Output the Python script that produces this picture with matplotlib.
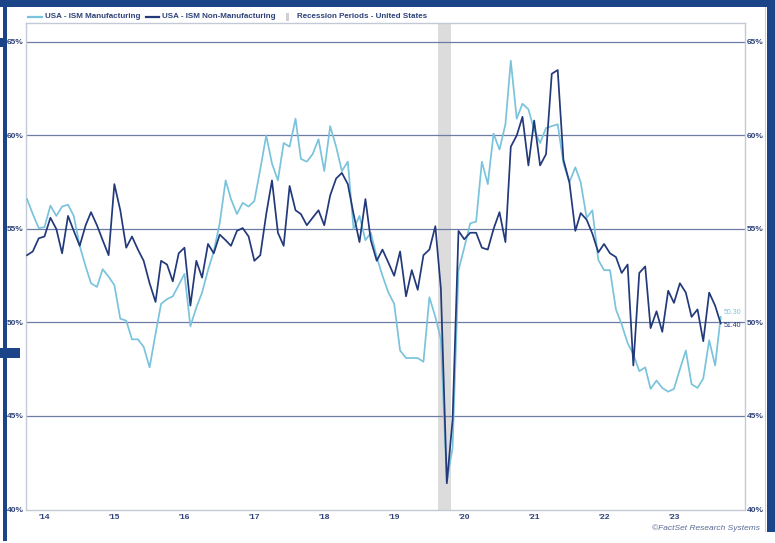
import matplotlib
matplotlib.use("Agg")
import matplotlib.pyplot as plt
from matplotlib.lines import Line2D
from matplotlib.patches import Rectangle
import pandas as pd

# ---------------- data ----------------
start_month = "2014-04-01"
ism_manufacturing = [
    56.6, 55.8, 55.05, 55.1, 56.25, 55.7, 56.2, 56.3, 55.7, 54.1, 53.0, 52.1,
    51.9, 52.85, 52.45, 52.0, 50.2, 50.1, 49.1, 49.1, 48.7, 47.6, 49.4, 51.0,
    51.25, 51.4, 52.0, 52.6, 49.8, 50.8, 51.6, 52.8, 53.8, 55.3, 57.6, 56.6,
    55.8, 56.4, 56.2, 56.5, 58.2, 60.0, 58.5, 57.6, 59.6, 59.4, 60.9, 58.75,
    58.6, 59.0, 59.8, 58.1, 60.5, 59.4, 58.1, 58.6, 55.0, 55.7, 54.4, 54.8,
    53.5, 52.5, 51.6, 51.0, 48.5, 48.1, 48.1, 48.1, 47.9, 51.35, 50.3, 49.1,
    41.5, 43.3, 52.8, 54.0, 55.3, 55.4, 58.6, 57.4, 60.1, 59.25, 60.6, 64.0,
    60.9, 61.7, 61.4, 60.3, 59.6, 60.4, 60.5, 60.6, 58.5, 57.5, 58.3, 57.5,
    55.6, 56.0, 53.35, 52.8, 52.8, 50.7, 49.9, 48.9, 48.3, 47.4, 47.6, 46.45,
    46.9, 46.5, 46.3, 46.45, 47.5, 48.5, 46.7, 46.5, 47.0, 49.05, 47.7, 50.3,
]
ism_non_manufacturing = [
    53.6, 53.8, 54.5, 54.6, 55.6, 55.0, 53.7, 55.7, 54.9, 54.1, 55.2, 55.9,
    55.2, 54.4, 53.6, 57.4, 56.0, 54.0, 54.6, 53.9, 53.3, 52.1, 51.1, 53.3,
    53.1, 52.2, 53.7, 54.0, 50.9, 53.3, 52.4, 54.2, 53.7, 54.7, 54.4, 54.1,
    54.9, 55.05, 54.6, 53.3, 53.6, 55.8, 57.6, 54.8, 54.1, 57.3, 56.0, 55.8,
    55.2, 55.6, 56.0, 55.2, 56.8, 57.7, 58.0, 57.4, 55.8, 54.3, 56.6, 54.4,
    53.3, 53.9, 53.2, 52.5, 53.8, 51.4, 52.8, 51.75, 53.6, 53.9, 55.15, 51.8,
    41.4, 44.8, 54.9, 54.45, 54.8, 54.8, 54.0, 53.9, 55.0, 55.9, 54.3, 59.4,
    60.0, 61.0, 58.4, 60.8, 58.4, 59.0, 63.3, 63.5, 58.7, 57.5, 54.9, 55.85,
    55.5, 54.75, 53.75, 54.2, 53.7, 53.5, 52.65, 53.1, 47.7, 52.65, 53.0, 49.7,
    50.6, 49.5, 51.7, 51.05, 52.1, 51.6, 50.3, 50.7, 49.0, 51.6, 50.9, 49.95,
]
last_labels = ["50.30", "51.40"]
recession_start = "2020-02-14"
recession_end = "2020-04-23"
year_ticks = ["2014-07-01", "2015-07-01", "2016-07-01", "2017-07-01", "2018-07-01",
              "2019-07-01", "2020-07-01", "2021-07-01", "2022-07-01", "2023-07-01"]
year_labels = ["'14", "'15", "'16", "'17", "'18", "'19", "'20", "'21", "'22", "'23"]
y_ticks = [40, 45, 50, 55, 60, 65]
y_labels = ["40%", "45%", "50%", "55%", "60%", "65%"]
legend_labels = ["USA - ISM Manufacturing", "USA - ISM Non-Manufacturing",
                 "Recession Periods - United States"]
credit = "\u00a9FactSet Research Systems"

# ---------------- style ----------------
LIGHT = "#7ac3dc"
DARK = "#22397a"
NAVY_TXT = "#2e4279"
GRID = "#6c7ca4"
SPINE = "#c3c9d6"
REC = "#dcdcdc"
FRAME = "#1c4489"
plt.rcParams["font.family"] = ["Liberation Sans", "DejaVu Sans"]

W, H = 775, 543
fig = plt.figure(figsize=(W / 100, H / 100), dpi=100, facecolor="white")


def fx(px):
    return px / W


def fy(py):
    return 1 - py / H


ax = fig.add_axes([fx(25.7), fy(509.5), fx(745) - fx(25.7), fy(23.3) - fy(509.5)])

dates = pd.date_range(start_month, periods=len(ism_manufacturing), freq="MS")

ax.axvspan(pd.Timestamp(recession_start), pd.Timestamp(recession_end),
           color=REC, lw=0, zorder=1)
for v in y_ticks[1:]:
    ax.axhline(v, color=GRID, lw=0.9, zorder=2)

ax.plot(dates, ism_manufacturing, color=LIGHT, lw=1.25, zorder=3)
ax.plot(dates, ism_non_manufacturing, color=DARK, lw=1.25, zorder=4)

ax.set_xlim(pd.Timestamp("2014-03-25"), pd.Timestamp("2024-07-06"))
ax.set_ylim(40, 66.0)

ax.set_xticks([pd.Timestamp(d) for d in year_ticks])
ax.set_xticklabels(year_labels, fontweight="bold")
ax.set_yticks(y_ticks)
ax.set_yticklabels(y_labels, fontweight="bold")
ax.tick_params(axis="both", length=0, colors=NAVY_TXT, labelsize=6)
ax.tick_params(axis="y", pad=1.5, labelright=True, right=False)
ax.tick_params(axis="x", pad=3.5)
for t in ax.yaxis.get_major_ticks():
    t.label2.set_fontweight("bold")

for s in ax.spines.values():
    s.set_color(SPINE)
    s.set_linewidth(1.0)

# end-of-series labels
ax.annotate(last_labels[0], (dates[-1], ism_manufacturing[-1]), xytext=(2.5, 3.2),
            textcoords="offset points", fontsize=5, color=LIGHT,
            va="center", ha="left")
ax.annotate(last_labels[1], (dates[-1], ism_non_manufacturing[-1]), xytext=(2.5, -1.8),
            textcoords="offset points", fontsize=5, color=DARK,
            va="center", ha="left")

# legend (manual)
ly = fy(16.5)
LFS = 5.8
fig.add_artist(Line2D([fx(28), fx(42)], [ly, ly], color=LIGHT, lw=1.6))
fig.text(fx(45), ly, legend_labels[0], fontsize=LFS, color=NAVY_TXT,
         fontweight="bold", va="center", ha="left")
fig.add_artist(Line2D([fx(146), fx(159)], [ly, ly], color=DARK, lw=1.6))
fig.text(fx(162), ly, legend_labels[1], fontsize=LFS, color=NAVY_TXT,
         fontweight="bold", va="center", ha="left")
fig.add_artist(Rectangle((fx(286), fy(20.5)), fx(2.5), fy(12.5) - fy(20.5),
                         transform=fig.transFigure, color="#cfcfcf", lw=0))
fig.text(fx(297), ly, legend_labels[2], fontsize=LFS, color=NAVY_TXT,
         fontweight="bold", va="center", ha="left")

fig.text(fx(760), fy(528), credit, fontsize=6, color="#5a6a96",
         style="italic", ha="right", va="center")


# outer frame (screenshot border)
def frame_rect(x0, y0, x1, y1, c=FRAME):
    fig.add_artist(Rectangle((fx(x0), fy(y1)), fx(x1) - fx(x0), fy(y0) - fy(y1),
                             transform=fig.transFigure, color=c, lw=0, zorder=10))


frame_rect(0, 0, 775, 6.5)
frame_rect(3, 0, 7, 541)
frame_rect(0, 38, 7, 47)
frame_rect(0, 348, 20, 358)
frame_rect(767, 0, 775, 532)
frame_rect(764.5, 6.5, 765.5, 532, c="#c8ccd6")

fig.savefig("out.png", dpi=100, facecolor="white")
